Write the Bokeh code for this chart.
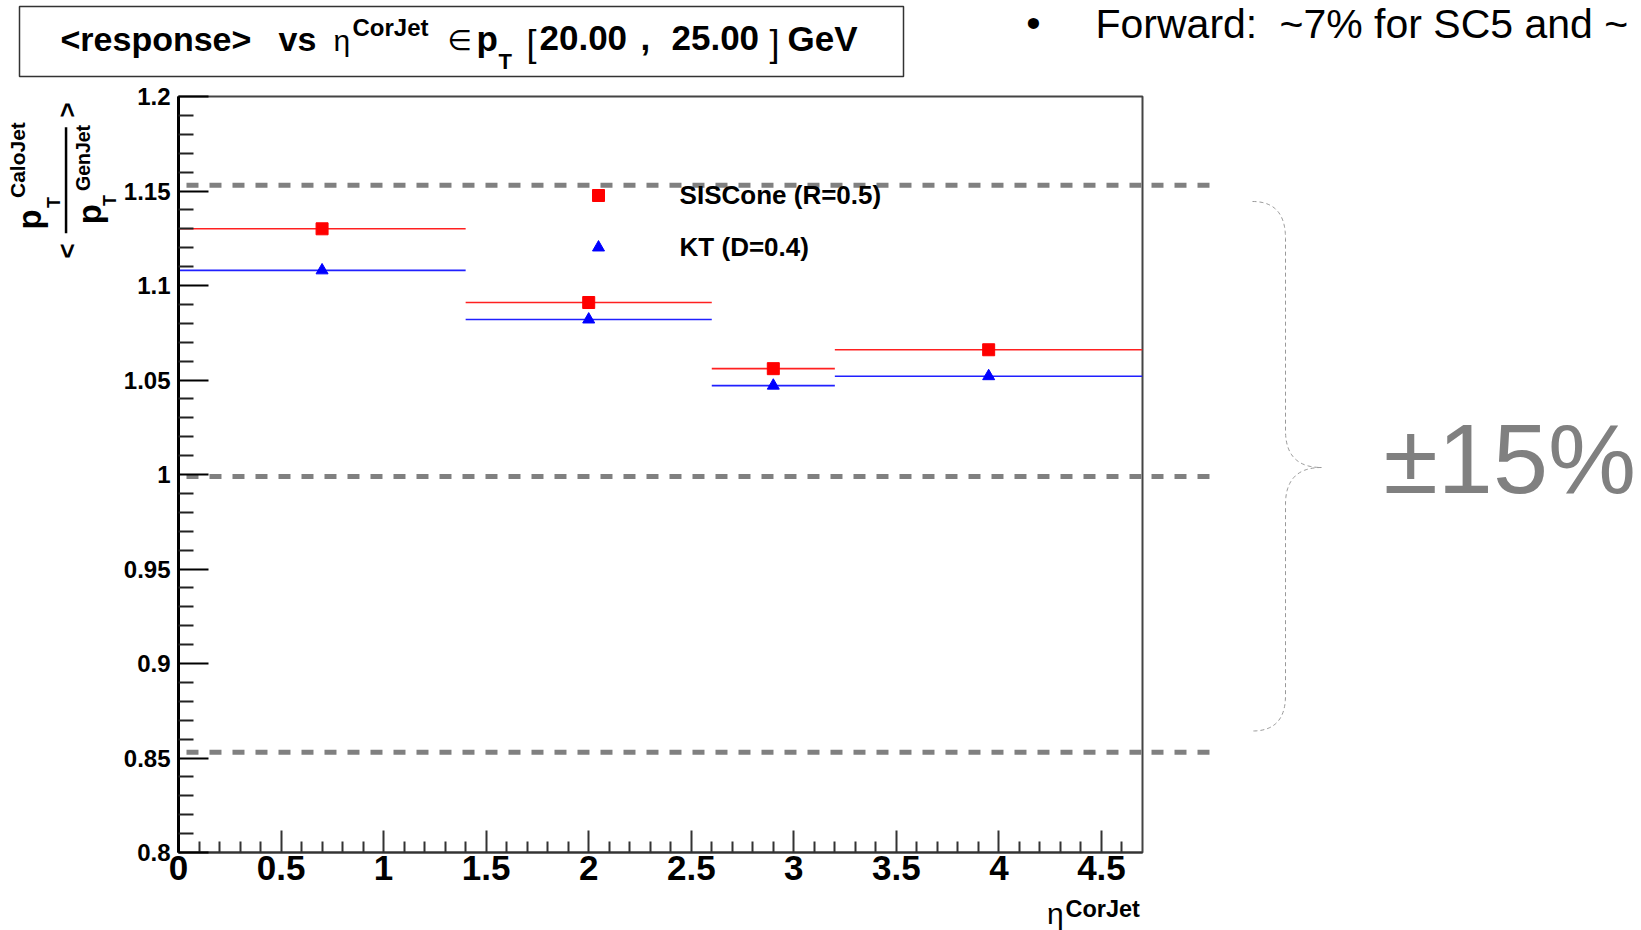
import numpy as np
from bokeh.plotting import figure
from bokeh.layouts import column, row
from bokeh.models import (Range1d, FixedTicker, NumeralTickFormatter, Label,
                          ColumnDataSource, Legend, LegendItem)
from bokeh.embed import file_html
from bokeh.resources import INLINE

# ---------------- data ----------------
eta_center = [0.7, 2.0, 2.9, 3.95]
eta_halfwidth = [0.7, 0.6, 0.3, 0.75]
response_siscone = [1.130, 1.091, 1.056, 1.066]
response_kt = [1.108, 1.082, 1.047, 1.052]
series_labels = ["SISCone (R=0.5)", "KT (D=0.4)"]
guide_levels = [1.153, 0.999, 0.853]          # grey dashed +-15% guide lines
x_major_ticks = [0, 0.5, 1, 1.5, 2, 2.5, 3, 3.5, 4, 4.5]
y_major_ticks = [0.8, 0.85, 0.9, 0.95, 1.0, 1.05, 1.1, 1.15, 1.2]
x_minor_ticks = [round(0.1 * i, 1) for i in range(1, 47) if i % 5]
y_minor_ticks = [round(0.8 + 0.01 * i, 2) for i in range(1, 40) if i % 5]
X_MIN, X_MAX, Y_MIN, Y_MAX = 0.0, 4.7, 0.8, 1.2

# ---------------- page layout (pixels) ----------------
PW, PH = 1641, 930
TOP_H = 81                 # title strip
BOT_Y = 895                # start of the x-title strip
LEFT_W = 120               # y-title strip
MAIN_R = 1144              # right edge of main figure
FL, FT, FR, FB = 177, 96, 1142, 852   # frame edges on the page
FONT = "Liberation Sans"
ROW_H = BOT_Y - TOP_H
K_MID = 0.345              # em distance from alphabetic baseline to text middle


def y_data(py):
    return Y_MAX - (py - FT) * (Y_MAX - Y_MIN) / (FB - FT)


def deco_fig(w, h, xr, yr):
    f = figure(width=w, height=h, x_range=xr, y_range=yr, output_backend="svg",
               toolbar_location=None, title=None, x_axis_location=None, y_axis_location=None,
               min_border=0, min_border_left=0, min_border_right=0,
               min_border_top=0, min_border_bottom=0)
    f.xgrid.visible = False
    f.ygrid.visible = False
    f.outline_line_color = None
    f.background_fill_color = "white"
    f.border_fill_color = "white"
    return f


def add_text(f, text, bx, by, size, bold=True, color="black", rotated=False, font=FONT,
             align="left", ymap=None):
    """bx, by: start of the alphabetic baseline on the page."""
    if rotated:
        x, y, angle = bx - K_MID * size, by, np.pi / 2
    else:
        x, y, angle = bx, by - K_MID * size, 0.0
    if ymap is not None:
        y = ymap(y)
    f.add_layout(Label(x=x, y=y, text=text, text_font=font, text_font_size=f"{size}px",
                       text_font_style="bold" if bold else "normal", text_color=color,
                       angle=angle, text_align=align, text_baseline="middle"))


# ---------------- main plot ----------------
p = figure(width=MAIN_R - LEFT_W, height=ROW_H,
           x_range=Range1d(X_MIN, X_MAX), y_range=Range1d(Y_MIN, Y_MAX),
           output_backend="svg", toolbar_location=None, title=None,
           min_border_left=FL - LEFT_W, min_border_right=MAIN_R - FR,
           min_border_top=FT - TOP_H, min_border_bottom=BOT_Y - FB)
p.xgrid.visible = False
p.ygrid.visible = False
p.background_fill_color = "white"
p.border_fill_color = "white"
p.outline_line_color = "#444444"
p.outline_line_width = 2

xa = p.xaxis[0]
xa.ticker = FixedTicker(ticks=x_major_ticks, minor_ticks=x_minor_ticks)
xa.formatter = NumeralTickFormatter(format="0.[0]")
xa.major_tick_in = 22
xa.major_tick_out = 0
xa.minor_tick_in = 11
xa.minor_tick_out = 0
xa.major_tick_line_color = "#333333"
xa.major_tick_line_width = 2
xa.minor_tick_line_color = "#333333"
xa.minor_tick_line_width = 2
xa.axis_line_color = "#333333"
xa.axis_line_width = 2
xa.major_label_text_font = FONT
xa.major_label_text_font_size = "35px"
xa.major_label_text_font_style = "bold"
xa.major_label_text_color = "black"
xa.major_label_standoff = 3

ya = p.yaxis[0]
ya.ticker = FixedTicker(ticks=y_major_ticks, minor_ticks=y_minor_ticks)
ya.formatter = NumeralTickFormatter(format="0.[00]")
ya.major_tick_in = 30
ya.major_tick_out = 0
ya.minor_tick_in = 15
ya.minor_tick_out = 0
ya.major_tick_line_color = "black"
ya.major_tick_line_width = 2
ya.minor_tick_line_color = "#222222"
ya.minor_tick_line_width = 2
ya.axis_line_color = "black"
ya.axis_line_width = 3
ya.major_label_text_font = FONT
ya.major_label_text_font_size = "24px"
ya.major_label_text_font_style = "bold"
ya.major_label_text_color = "black"
ya.major_label_standoff = 8

src = ColumnDataSource(dict(
    x=eta_center,
    x0=[c - h for c, h in zip(eta_center, eta_halfwidth)],
    x1=[c + h for c, h in zip(eta_center, eta_halfwidth)],
    sis=response_siscone,
    kt=response_kt,
))
p.segment(x0="x0", x1="x1", y0="sis", y1="sis", source=src, line_color="#ff2020", line_width=1.6)
p.segment(x0="x0", x1="x1", y0="kt", y1="kt", source=src, line_color="#2020ff", line_width=1.6)
r_sis = p.scatter(x="x", y="sis", source=src, marker="square", size=12,
                  fill_color="#ff0000", line_color="#ff0000")
r_kt = p.scatter(x="x", y="kt", source=src, marker="triangle", size=12,
                 fill_color="#0000ff", line_color="#0000ff")

legend = Legend(items=[LegendItem(label=series_labels[0], renderers=[r_sis]),
                       LegendItem(label=series_labels[1], renderers=[r_kt])],
                location=(404.6, 589.3), glyph_width=30, glyph_height=30,
                label_standoff=67, spacing=21, padding=0, margin=0,
                border_line_alpha=0, background_fill_alpha=0,
                label_text_font=FONT, label_text_font_size="26px",
                label_text_font_style="bold", label_text_color="black")
p.add_layout(legend)

# grey dashed guide lines (inside the frame part)
GUIDE_DASH = "12 11"
guide_x_start = (185 - FL) * (X_MAX - X_MIN) / (FR - FL)
guide_src = ColumnDataSource(dict(y=guide_levels,
                                  x0=[guide_x_start] * len(guide_levels),
                                  x1=[X_MAX + 0.2] * len(guide_levels)))
p.segment(x0="x0", x1="x1", y0="y", y1="y", source=guide_src,
          line_color="#808080", line_width=5, line_dash=GUIDE_DASH)

# ---------------- right strip: guide continuation, brace, +-15% ----------------
# (frames in a row are aligned, so this strip shares the main y scale)
pr = deco_fig(PW - MAIN_R, ROW_H, Range1d(MAIN_R, PW), Range1d(Y_MIN, Y_MAX))
guide_src_r = ColumnDataSource(dict(y=guide_levels,
                                    x0=[MAIN_R] * len(guide_levels),
                                    x1=[1217] * len(guide_levels)))
pr.segment(x0="x0", x1="x1", y0="y", y1="y", source=guide_src_r,
           line_color="#808080", line_width=5, line_dash=GUIDE_DASH,
           line_dash_offset=(MAIN_R - 185) % 23)


def qbez(a, c, b, n=30):
    t = np.linspace(0, 1, n)[:, None]
    a, c, b = map(np.asarray, (a, c, b))
    return (1 - t) ** 2 * a + 2 * (1 - t) * t * c + t ** 2 * b


bx_, ax_, tip_x = 1285, 1252, 1321
ytop, yb1, yb2, ytip, yb3, yb4, ybot = 201, 238, 430, 467, 504, 695, 730.5
pts = np.vstack([
    qbez((ax_, ytop), (bx_, ytop), (bx_, yb1)),
    qbez((bx_, yb2), (bx_, ytip), (tip_x, ytip)),
    qbez((tip_x, ytip), (bx_, ytip), (bx_, yb3))[1:],
    qbez((bx_, yb4), (bx_, ybot), (ax_, ybot)),
])
pr.line(x=list(pts[:, 0]), y=[y_data(v) for v in pts[:, 1]],
        line_color="#999999", line_width=1, line_dash="4 3")
add_text(pr, "±15%", 1383, 492, 99, bold=False, color="#808080", ymap=y_data)

# ---------------- left strip: y title ----------------
pl = deco_fig(LEFT_W, ROW_H, Range1d(0, LEFT_W), Range1d(FB, FT))
add_text(pl, "<", 75, 258, 26, rotated=True)
add_text(pl, ">", 75, 117, 26, rotated=True)
add_text(pl, "p", 40.5, 229, 33, rotated=True)
add_text(pl, "T", 59.3, 207.5, 18, rotated=True)
add_text(pl, "CaloJet", 24, 197.5, 21, rotated=True)
add_text(pl, "p", 100.3, 223.7, 33, rotated=True)
add_text(pl, "T", 116, 205.5, 18, rotated=True)
add_text(pl, "GenJet", 89.3, 190.5, 19.5, rotated=True)
pl.quad(left=[64.3], right=[66.8], top=[126.7], bottom=[232.7],
        fill_color="black", line_alpha=0)

# ---------------- top strip: title box and slide text ----------------
pt = deco_fig(PW, TOP_H, Range1d(0, PW), Range1d(TOP_H, 0))
pt.quad(left=[19], right=[903], top=[6], bottom=[76], fill_alpha=0,
        line_color="#333333", line_width=1.5)
add_text(pt, "<response>", 60, 50, 34)
add_text(pt, "vs", 278, 50, 34)
add_text(pt, "η", 333, 50, 30, bold=False)
add_text(pt, "CorJet", 352, 35, 24)
add_text(pt, "∈", 447, 50, 28, bold=False, font="DejaVu Sans")
add_text(pt, "p", 476, 50, 35)
add_text(pt, "T", 498, 69, 22)
add_text(pt, "[", 526, 55, 36, bold=False)
add_text(pt, "20.00", 539, 50, 35)
add_text(pt, ",", 640, 50, 35)
add_text(pt, "25.00", 671, 50, 35)
add_text(pt, "]", 769, 55, 36, bold=False)
add_text(pt, "GeV", 787, 50, 35)
pt.add_layout(Label(x=1033, y=22, text="•", text_font=FONT, text_font_size="41px",
                    text_color="black", text_align="center", text_baseline="middle"))
add_text(pt, "Forward:", 1095, 37.4, 41, bold=False)
add_text(pt, "~7% for SC5 and ~", 1279, 37.4, 41, bold=False)

# ---------------- bottom strip: x title ----------------
pb = deco_fig(PW, PH - BOT_Y, Range1d(0, PW), Range1d(PH, BOT_Y))
add_text(pb, "η", 1046.6, 923.2, 30, bold=False)
add_text(pb, "CorJet", 1065, 916.6, 23.5)

layout = column(pt, row(pl, p, pr), pb)
open("out.html", "w").write(file_html(layout, INLINE))
